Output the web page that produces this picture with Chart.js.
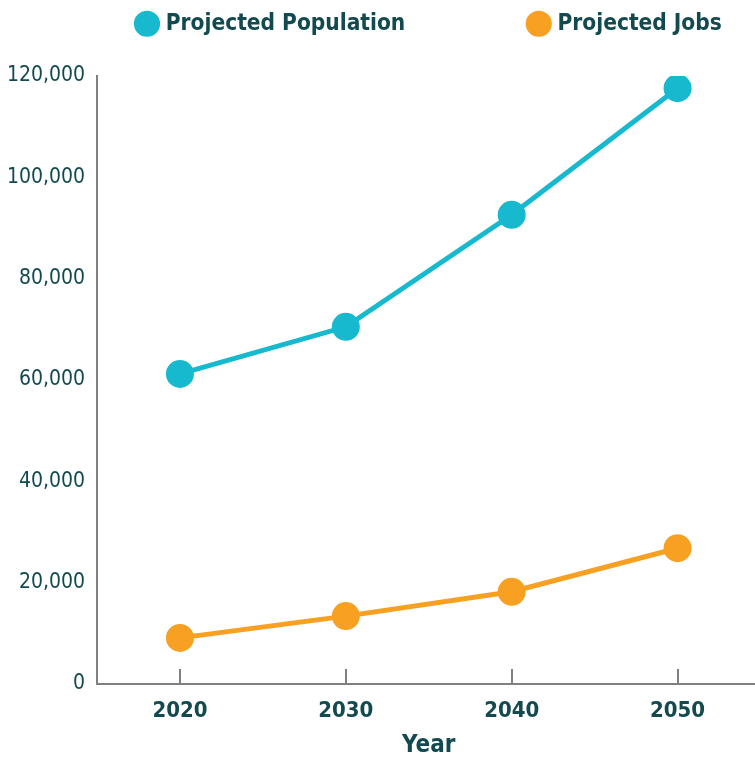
<!DOCTYPE html>
<html>
<head>
<meta charset="utf-8">
<script src="https://cdn.jsdelivr.net/npm/chart.js@4.4.1/dist/chart.umd.min.js"></script>
<style>
  html, body { margin: 0; padding: 0; background: #fff; overflow: hidden; }
  canvas { display: block; }
</style>
</head>
<body>
<canvas id="chart" width="777" height="757" style="width:777px;height:757px"></canvas>
<script>
const years = ['2020', '2030', '2040', '2050'];
const population = [61200, 70500, 92600, 117600];
const jobs = [9100, 13400, 18200, 26800];
const yTicks = [0, 20000, 40000, 60000, 80000, 100000, 120000];

const TEXT = '#124a50';
const AXIS = '#808080';
const CYAN = '#17b9cf';
const ORANGE = '#f7a022';
const FONT = '"DejaVu Sans Condensed", "Liberation Sans Narrow", sans-serif';

const LEGEND_PAD = 126;      // horizontal gap between legend items
const LEGEND_X = 139.5;      // left of first legend marker
const LEGEND_TEXT_TOP = 12.5;
const LEGEND_HEIGHT = 70;

// legend: wide gap between items, one row, short fixed box
const legendPlace = {
  id: 'legendPlace',
  beforeLayout(chart) {
    const lg = chart.legend;
    if (lg && !lg._patched) {
      const fit = lg.fit;
      lg.fit = function () {
        const mw = this.maxWidth;
        this.maxWidth = 3000;
        fit.call(this);
        this.maxWidth = mw;
        this.width = mw;
        this.height = LEGEND_HEIGHT;
      };
      lg._patched = true;
    }
  },
  afterLayout(chart) {
    const lg = chart.legend;
    if (!lg) return;
    lg.left = LEGEND_X - LEGEND_PAD; lg.right = lg.left + 3000;
    lg.top = LEGEND_TEXT_TOP - LEGEND_PAD; lg.bottom = LEGEND_HEIGHT;
  }
};

const ctx = document.getElementById('chart').getContext('2d');
new Chart(ctx, {
  type: 'line',
  data: {
    labels: years,
    datasets: [
      {
        label: 'Projected Population',
        data: population,
        borderColor: CYAN,
        backgroundColor: CYAN,
        borderWidth: 5,
        pointRadius: 11.5,
        pointHoverRadius: 11.5,
        tension: 0
      },
      {
        label: 'Projected Jobs',
        data: jobs,
        borderColor: ORANGE,
        backgroundColor: ORANGE,
        borderWidth: 5,
        pointRadius: 11.5,
        pointHoverRadius: 11.5,
        tension: 0
      }
    ]
  },
  options: {
    responsive: false,
    animation: false,
    layout: { padding: { top: 6, left: 0, right: 0, bottom: 0 } },
    plugins: {
      tooltip: { enabled: false },
      legend: {
        position: 'top',
        align: 'start',
        labels: {
          usePointStyle: true,
          pointStyle: 'circle',
          boxHeight: 15,
          boxWidth: 15,
          padding: LEGEND_PAD,
          color: TEXT,
          font: { family: FONT, size: 22.5, weight: 'bold' }
        }
      }
    },
    scales: {
      x: {
        offset: true,
        grid: { display: true, drawOnChartArea: false, drawTicks: true, tickLength: -15, color: AXIS, lineWidth: 2 },
        border: { display: true, color: AXIS, width: 2 },
        ticks: { color: TEXT, padding: 29, font: { family: FONT, size: 22, weight: 'bold' } },
        title: { display: true, text: 'Year', color: TEXT, padding: { top: 0, bottom: -3 }, font: { family: FONT, size: 24, weight: 'bold' } },
        afterFit(scale) { scale.height = 73; }
      },
      y: {
        min: 0,
        max: 120000,
        afterBuildTicks(scale) { scale.ticks = yTicks.map(v => ({ value: v })); },
        grid: { display: false, drawTicks: false },
        border: { display: true, color: AXIS, width: 2 },
        ticks: {
          color: TEXT,
          padding: 12,
          font: { family: FONT, size: 21 },
          callback: v => v.toLocaleString('en-US')
        },
        afterFit(scale) { scale.width = 97; }
      }
    }
  },
  plugins: [legendPlace]
});
</script>
</body>
</html>
